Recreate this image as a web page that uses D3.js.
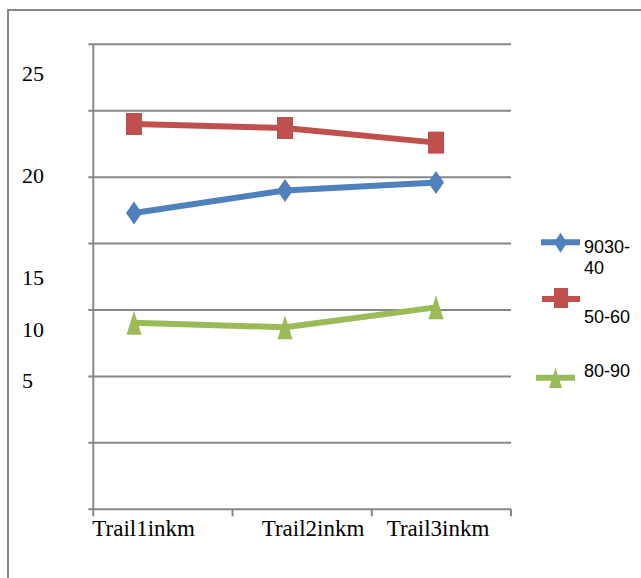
<!DOCTYPE html>
<html>
<head>
<meta charset="utf-8">
<script src="https://cdn.jsdelivr.net/npm/d3@7"></script>
<style>
  html, body { margin: 0; padding: 0; background: #fff; }
  svg { display: block; }
</style>
</head>
<body>
<script>
// ---- data ----
const categories = ["Trail1inkm", "Trail2inkm", "Trail3inkm"];
const seriesNames = ["9030-40", "50-60", "80-90"];
const series9030_40 = [22.3, 24.0, 24.6];
const series50_60 = [29.0, 28.7, 27.6];
const series80_90 = [14.05, 13.7, 15.2];
const yGridValues = [0, 5, 10, 15, 20, 25, 30, 35];
const yLabels = ["25", "20", "15", "10", "5"];

// ---- layout ----
const W = 641, H = 578;
const plot = { left: 93.3, right: 511, top: 44.3, bottom: 509.3 };
const pointRange = [134, 436];
const yLabelX = 22;
const yLabelBaselines = [81, 183, 285, 336.5, 388];
const xLabelStarts = [92.3, 261.7, 386.7];
const xLabelBaseline = 535.5;
const gridColor = "#878787";
const colors = ["#4F81BD", "#C0504D", "#9BBB59"];
const shapes = ["diamond", "square", "triangle"];

const svg = d3.select("body").append("svg")
  .attr("width", W).attr("height", H);

// outer frame
svg.append("rect")
  .attr("x", 8).attr("y", 10)
  .attr("width", 700).attr("height", 640)
  .attr("fill", "none").attr("stroke", gridColor).attr("stroke-width", 2);

const y = d3.scaleLinear().domain([0, 35]).range([plot.bottom, plot.top]);
const xBand = d3.scaleBand().domain(categories).range([plot.left, plot.right]);
const xPoint = d3.scalePoint().domain(categories).range(pointRange);

// horizontal gridlines with short left ticks
svg.append("g").selectAll("line").data(yGridValues).join("line")
  .attr("x1", plot.left - 5).attr("x2", plot.right)
  .attr("y1", d => y(d)).attr("y2", d => y(d))
  .attr("stroke", gridColor).attr("stroke-width", 2);

// vertical axis line
svg.append("line")
  .attr("x1", plot.left).attr("x2", plot.left)
  .attr("y1", plot.top).attr("y2", plot.bottom + 7)
  .attr("stroke", gridColor).attr("stroke-width", 2);

// category boundary ticks on the bottom axis
const tickXs = categories.map(c => xBand(c) + xBand.bandwidth());
svg.append("g").selectAll("line").data(tickXs).join("line")
  .attr("x1", d => d).attr("x2", d => d)
  .attr("y1", plot.bottom).attr("y2", plot.bottom + 7)
  .attr("stroke", gridColor).attr("stroke-width", 2);

// y labels
svg.append("g").selectAll("text").data(yLabels).join("text")
  .attr("x", yLabelX).attr("y", (d, i) => yLabelBaselines[i])
  .attr("font-family", "'Liberation Serif', 'Times New Roman', serif")
  .attr("font-size", 22).attr("fill", "#000")
  .text(d => d);

// x labels
svg.append("g").selectAll("text").data(categories).join("text")
  .attr("x", (d, i) => xLabelStarts[i]).attr("y", xLabelBaseline)
  .attr("font-family", "'Liberation Serif', 'Times New Roman', serif")
  .attr("font-size", 23).attr("fill", "#000")
  .text(d => d);

// marker path centred on (0,0)
function markerPath(shape, w, h) {
  const a = w / 2, b = h / 2;
  if (shape === "diamond") return `M0,${-b}L${a},0L0,${b}L${-a},0Z`;
  if (shape === "square") return `M${-a},${-b}H${a}V${b}H${-a}Z`;
  return `M0,${-b}L${a},${b}L${-a},${b}Z`;
}
const markerSize = {
  diamond: [16, 23], square: [16, 22], triangle: [15, 24]
};

const allSeries = [series9030_40, series50_60, series80_90];
const line = d3.line()
  .x((d, i) => xPoint(categories[i]))
  .y(d => y(d));

allSeries.forEach((vals, si) => {
  const g = svg.append("g");
  g.append("path").datum(vals)
    .attr("d", line)
    .attr("fill", "none").attr("stroke", colors[si])
    .attr("stroke-width", 6).attr("stroke-linejoin", "round");
  const [mw, mh] = markerSize[shapes[si]];
  g.selectAll(".m").data(vals).join("path").attr("class", "m")
    .attr("transform", (d, i) => `translate(${xPoint(categories[i])},${y(d)})`)
    .attr("d", markerPath(shapes[si], mw, mh))
    .attr("fill", colors[si]);
});

// legend
const legendLineY = [242.3, 299, 377.7];
const legendLineX = [[541, 580], [542, 580], [536, 575]];
const legendMarker = { diamond: [13, 20], square: [14, 20], triangle: [13, 20] };
const legendMarkerY = [242.7, 298, 378];
const legendTextX = 584;
const legendTextLines = [["9030-", "40"], ["50-60"], ["80-90"]];
const legendTextBaselines = [[253.3, 273.8], [323.3], [377.3]];

seriesNames.forEach((name, si) => {
  const g = svg.append("g");
  const [x1, x2] = legendLineX[si];
  g.append("line")
    .attr("x1", x1).attr("x2", x2)
    .attr("y1", legendLineY[si]).attr("y2", legendLineY[si])
    .attr("stroke", colors[si]).attr("stroke-width", 6);
  const [mw, mh] = legendMarker[shapes[si]];
  g.append("path")
    .attr("transform", `translate(${(x1 + x2) / 2},${legendMarkerY[si]})`)
    .attr("d", markerPath(shapes[si], mw, mh))
    .attr("fill", colors[si]);
  g.selectAll("text").data(legendTextLines[si]).join("text")
    .attr("x", legendTextX).attr("y", (d, i) => legendTextBaselines[si][i])
    .attr("font-family", "'Liberation Sans', Arial, sans-serif")
    .attr("font-size", 18).attr("fill", "#000")
    .text(d => d);
});
</script>
</body>
</html>
